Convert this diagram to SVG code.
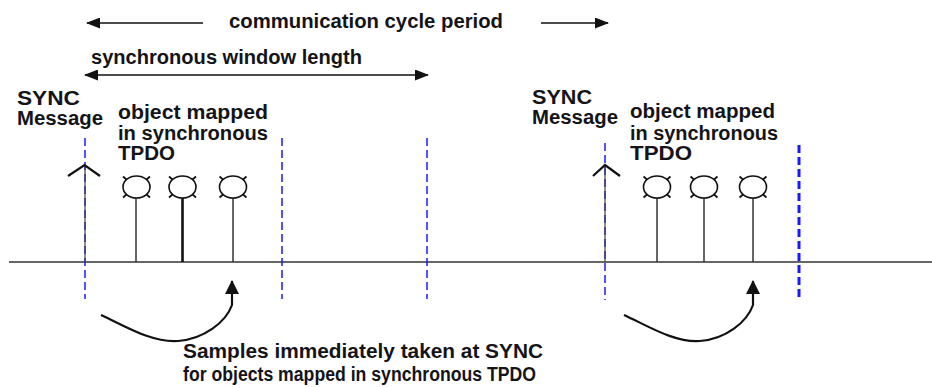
<svg xmlns="http://www.w3.org/2000/svg" width="932" height="387" viewBox="0 0 932 387">
  <style>
    .t { font-family: "Liberation Sans", Arial, sans-serif; font-weight: bold; font-size: 19.5px; fill: #141418; }
    .blk { stroke: #111; fill: none; }
    .dash { stroke: #1a1aff; stroke-width: 1.5; stroke-dasharray: 8 4; fill: none; }
    .dashb { stroke: #1a1aff; stroke-width: 3; stroke-dasharray: 8 4; fill: none; }
    .head { fill: #fff; stroke: #111; stroke-width: 1.6; }
    .tick { stroke: #111; stroke-width: 1.8; }
  </style>
  <defs>
    <marker id="ah" viewBox="0 0 14 11" refX="13" refY="5.5" markerWidth="14" markerHeight="11" markerUnits="userSpaceOnUse" orient="auto-start-reverse">
      <path d="M0,0 L14,5.5 L0,11 Z" fill="#111"/>
    </marker>
    <marker id="ah2" viewBox="0 0 14 14" refX="13" refY="7" markerWidth="14" markerHeight="14" markerUnits="userSpaceOnUse" orient="auto">
      <path d="M0,0 L14,7 L0,14 Z" fill="#111"/>
    </marker>
    <g id="pinhead">
      <ellipse cx="0" cy="0" rx="13.5" ry="11" class="head"/>
      <line x1="-10" y1="-7.5" x2="-13.5" y2="-10.5" class="tick"/>
      <line x1="10" y1="-7.5" x2="13.5" y2="-10.5" class="tick"/>
      <line x1="-10" y1="7.5" x2="-13.5" y2="10.5" class="tick"/>
      <line x1="10" y1="7.5" x2="13.5" y2="10.5" class="tick"/>
    </g>
  </defs>

  <rect width="932" height="387" fill="#fff"/>

  <!-- timeline -->
  <g id="timeline">
    <line x1="9" y1="262" x2="932" y2="262" stroke="#333" stroke-width="1.3"/>
  </g>

  <!-- dashed window boundaries -->
  <g id="boundaries">
    <line x1="85" y1="138" x2="85" y2="299" class="dash"/>
    <line x1="282" y1="138" x2="282" y2="299" class="dash"/>
    <line x1="427" y1="138" x2="427" y2="299" class="dash"/>
    <line x1="605" y1="143" x2="605" y2="300" class="dash"/>
    <line x1="799" y1="145" x2="799" y2="300" class="dashb"/>
  </g>

  <!-- top labels and arrows -->
  <g id="cycle-period">
    <line x1="203" y1="23" x2="87" y2="23" class="blk" stroke-width="1.5" marker-end="url(#ah)"/>
    <text x="229" y="28" class="t" textLength="274" lengthAdjust="spacingAndGlyphs">communication cycle period</text>
    <line x1="541" y1="23" x2="608" y2="23" class="blk" stroke-width="1.5" marker-end="url(#ah)"/>
  </g>
  <g id="sync-window">
    <text x="91" y="64" class="t" textLength="271" lengthAdjust="spacingAndGlyphs">synchronous window length</text>
    <line x1="85" y1="75" x2="428" y2="75" class="blk" stroke-width="1.5" marker-start="url(#ah)" marker-end="url(#ah)"/>
  </g>

  <!-- left cycle -->
  <g id="sync1">
    <text x="17" y="105" class="t" textLength="63" lengthAdjust="spacingAndGlyphs">SYNC</text>
    <text x="17" y="125" class="t" textLength="86" lengthAdjust="spacingAndGlyphs">Message</text>
    <line x1="85" y1="166" x2="85" y2="262" stroke="#444" stroke-width="1.2"/>
    <polyline points="68,176 84.5,165 100,176" class="blk" stroke-width="2.2"/>
  </g>
  <g id="tpdo1">
    <text x="118" y="119" class="t" textLength="150" lengthAdjust="spacingAndGlyphs">object  mapped</text>
    <text x="118" y="140" class="t" textLength="150" lengthAdjust="spacingAndGlyphs">in synchronous</text>
    <text x="118" y="160" class="t" textLength="57" lengthAdjust="spacingAndGlyphs">TPDO</text>
  </g>
  <g id="pins1">
    <line x1="136" y1="197" x2="136" y2="262" stroke="#333" stroke-width="1.5"/>
    <line x1="182.5" y1="197" x2="182.5" y2="262" stroke="#111" stroke-width="2.6"/>
    <line x1="233" y1="197" x2="233" y2="262" stroke="#333" stroke-width="1.5"/>
    <use href="#pinhead" x="136.5" y="187"/>
    <use href="#pinhead" x="182.5" y="187"/>
    <use href="#pinhead" x="233" y="187"/>
  </g>

  <!-- right cycle -->
  <g id="sync2">
    <text x="532" y="104" class="t" textLength="60" lengthAdjust="spacingAndGlyphs">SYNC</text>
    <text x="532" y="124" class="t" textLength="86" lengthAdjust="spacingAndGlyphs">Message</text>
    <line x1="605" y1="166" x2="605" y2="262" stroke="#444" stroke-width="1.2"/>
    <polyline points="593,176 605,165 620,176" class="blk" stroke-width="2.2"/>
  </g>
  <g id="tpdo2">
    <text x="630" y="118" class="t" textLength="145" lengthAdjust="spacingAndGlyphs">object mapped</text>
    <text x="630" y="140" class="t" textLength="148" lengthAdjust="spacingAndGlyphs">in synchronous</text>
    <text x="630" y="160" class="t" textLength="62" lengthAdjust="spacingAndGlyphs">TPDO</text>
  </g>
  <g id="pins2">
    <line x1="657" y1="197" x2="657" y2="262" stroke="#333" stroke-width="1.5"/>
    <line x1="704" y1="197" x2="704" y2="262" stroke="#333" stroke-width="1.5"/>
    <line x1="753" y1="197" x2="753" y2="262" stroke="#333" stroke-width="1.5"/>
    <use href="#pinhead" x="657" y="187"/>
    <use href="#pinhead" x="704" y="187"/>
    <use href="#pinhead" x="753" y="187"/>
  </g>

  <!-- curved sampling arrows -->
  <g id="connectors">
    <path d="M101,315 C125,326 152,343 178,341 C204,339 226,322 232,305 L232,281" class="blk" stroke-width="2.2" marker-end="url(#ah2)"/>
    <path d="M624,315 C648,326 675,343 700,341 C726,339 747,322 753,305 L753,281" class="blk" stroke-width="2.2" marker-end="url(#ah2)"/>
  </g>

  <g id="note">
    <text x="183" y="358" class="t" textLength="360" lengthAdjust="spacingAndGlyphs">Samples immediately taken at SYNC</text>
    <text x="183" y="381" class="t" textLength="353" lengthAdjust="spacingAndGlyphs">for objects mapped in synchronous TPDO</text>
  </g>
</svg>
